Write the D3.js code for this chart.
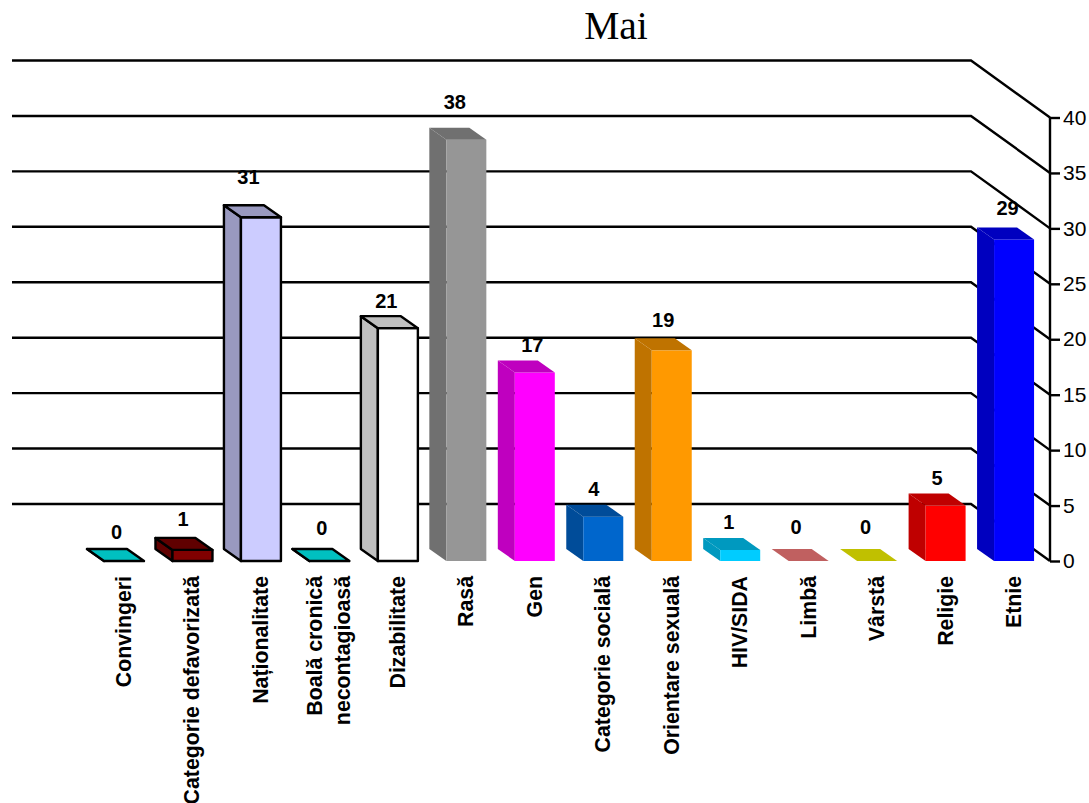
<!DOCTYPE html>
<html>
<head>
<meta charset="utf-8">
<script src="https://cdn.jsdelivr.net/npm/d3@7"></script>
<style>
  html, body { margin: 0; padding: 0; background: #fff; }
  svg { display: block; }
  text { font-family: "Liberation Sans", Arial, sans-serif; fill: #000; }
</style>
</head>
<body>
<svg id="chart" width="1089" height="803"></svg>
<script>
const categories = ['Convingeri', 'Categorie defavorizată', 'Naționalitate', 'Boală cronică necontagioasă',
  'Dizabilitate', 'Rasă', 'Gen', 'Categorie socială', 'Orientare sexuală', 'HIV/SIDA', 'Limbă', 'Vârstă', 'Religie', 'Etnie']
const values = [0, 1, 31, 0, 21, 38, 17, 4, 19, 1, 0, 0, 5, 29]
const frontColors = ['#00c0c0', '#800000', '#ccccff', '#00c0c0', '#ffffff', '#969696', '#ff00ff',
  '#0066cc', '#ff9900', '#00ccff', '#c06060', '#c0c000', '#ff0000', '#0000ff']
const sideColors = ['#009090', '#600000', '#9999bf', '#009090', '#bfbfbf', '#707070', '#bf00bf',
  '#004c99', '#bf7300', '#0099bf', '#904848', '#909000', '#bf0000', '#0000bf']
const outlined = ['Convingeri', 'Categorie defavorizată', 'Naționalitate', 'Boală cronică necontagioasă', 'Dizabilitate']
const yTicks = [0, 5, 10, 15, 20, 25, 30, 35, 40]

const svg = d3.select('#chart')

const y = d3.scaleLinear().domain([0, 40]).range([561, 117.5])
const x = d3.scaleBand().domain(categories).range([69.77, 1068.3]).paddingInner(0.4157).paddingOuter(0.5)

// depth of the side wall and of the bars
const wallDx = 79, wallDy = 57
const barDx = 17, barDy = 12

svg.append('text')
  .attr('x', 616).attr('y', 39)
  .attr('text-anchor', 'middle')
  .style('font-family', '"Liberation Serif", serif')
  .style('font-size', '39.5px')
  .text('Mai')

// back wall lines, going down the side wall to the axis
svg.selectAll('.grid').data(yTicks).join('path')
  .attr('class', 'grid')
  .attr('fill', 'none').attr('stroke', '#000').attr('stroke-width', 2.4)
  .attr('d', d => `M12,${y(d) - wallDy}H${1050 - wallDx}L1050,${y(d)}`)

const axis = d3.axisRight(y).tickValues(yTicks).tickSize(10).tickSizeOuter(0).tickPadding(3)
const axisG = svg.append('g').attr('transform', 'translate(1050,0)').call(axis)
axisG.selectAll('path, line').attr('stroke', '#000').attr('stroke-width', 2.4)
axisG.selectAll('text').style('font-size', '21px').style('font-family', '"Liberation Sans", Arial, sans-serif')
axisG.select('.domain').attr('d', `M0,${y(40)}V${y(0)}`)

const bars = svg.selectAll('.bar').data(categories).join('g').attr('class', 'bar')
  .attr('stroke', d => outlined.includes(d) ? '#000' : 'none')
  .attr('stroke-width', 2.4)
  .attr('stroke-linejoin', 'round')

function topFace(d, i) {
  const x0 = x(d), w = x.bandwidth(), t = y(values[i])
  return `M${x0},${t}L${x0 - barDx},${t - barDy}H${x0 + w - barDx}L${x0 + w},${t}Z`
}
function sideFace(d, i) {
  const x0 = x(d), t = y(values[i]), b = y(0)
  return `M${x0},${t}L${x0 - barDx},${t - barDy}V${b - barDy}L${x0},${b}Z`
}

bars.append('path').attr('d', sideFace).attr('fill', (d, i) => sideColors[i])
bars.append('rect')
  .attr('x', d => x(d)).attr('width', x.bandwidth())
  .attr('y', (d, i) => y(values[i])).attr('height', (d, i) => y(0) - y(values[i]))
  .attr('fill', (d, i) => frontColors[i])
bars.append('path').attr('d', topFace)
  .attr('fill', (d, i) => values[i] === 0 ? frontColors[i] : sideColors[i])

// the value labels float a little off the bars, same nudge per bar as the original
const labelNudgeX = [1, -1, -4, 1, -3, -3, 6, -1, 0, -3, -4, -3, 0, 2]
const labelNudgeY = [2, 0, -9, -2.5, 4, -7, 3, 3, 1, 3, -3, -3.5, 3, 0]

svg.selectAll('.val').data(categories).join('text')
  .attr('class', 'val')
  .attr('x', (d, i) => x(d) + x.bandwidth() / 2 - barDx / 2 + labelNudgeX[i])
  .attr('y', (d, i) => y(values[i]) - barDy - 12 + labelNudgeY[i])
  .attr('text-anchor', 'middle')
  .style('font-size', '20px').style('font-weight', 'bold')
  .text((d, i) => values[i])

// rotated category labels, the long one on two lines
svg.selectAll('.cat').data(categories).join('text')
  .attr('class', 'cat')
  .attr('text-anchor', 'end')
  .attr('transform', d => `translate(${x(d) + x.bandwidth() / 2 + 7},576) rotate(-90)`)
  .style('font-size', '21.3px').style('font-weight', 'bold')
  .each(function (d) {
    const t = d3.select(this)
    if (d === 'Boală cronică necontagioasă') {
      t.append('tspan').attr('x', 0).attr('dy', -14.7).text('Boală cronică')
      t.append('tspan').attr('x', 0).attr('dy', 28.3).text('necontagioasă')
    } else {
      t.text(d)
    }
  })
</script>
</body>
</html>
